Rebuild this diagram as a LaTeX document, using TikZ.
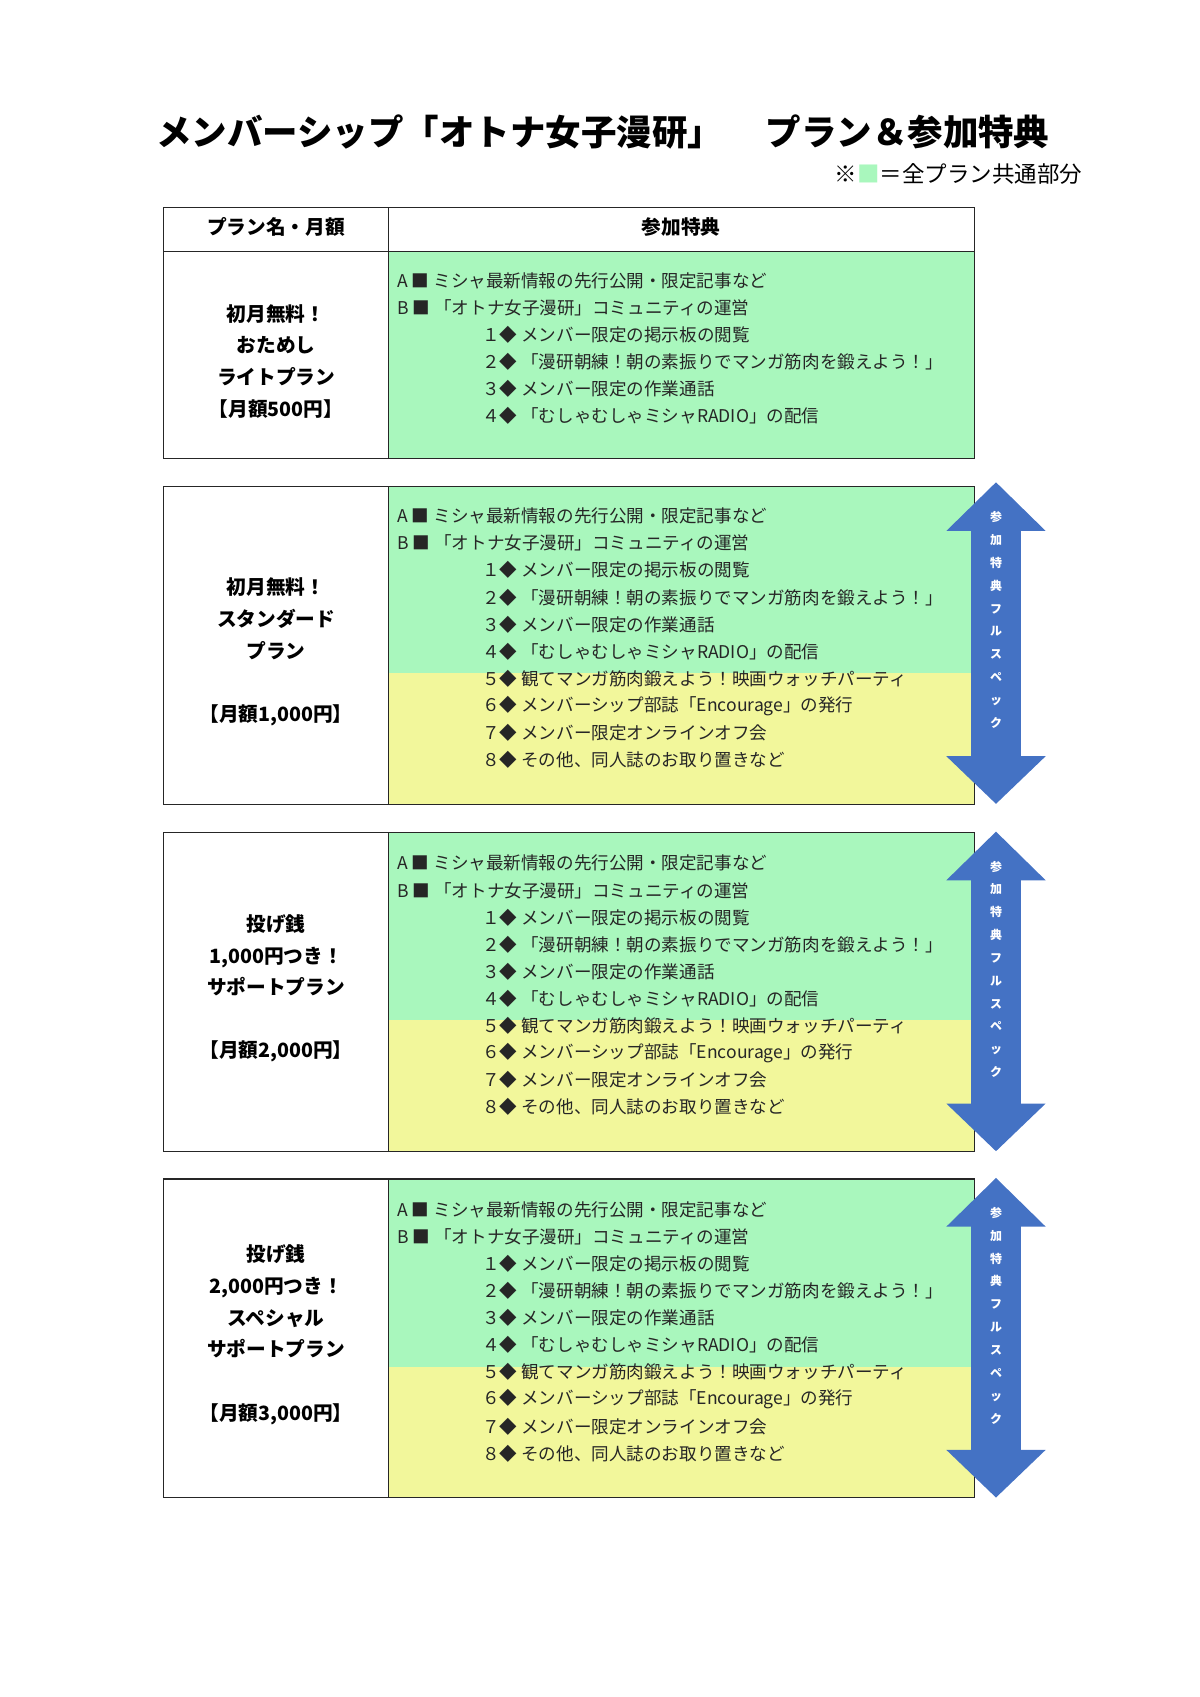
\documentclass[tikz,border=0pt]{standalone}
\usepackage{fontspec}
\setmainfont{Noto Sans CJK JP}
\definecolor{perkgreen}{HTML}{A9F7BD}
\definecolor{perkyellow}{HTML}{F2F79B}
\definecolor{arrowblue}{HTML}{4472C4}
\tikzset{
  planbox/.style={draw=black!85,line width=1.6pt},
  perk/.style={anchor=west,inner sep=0pt,font=\fontsize{25}{25}\selectfont,text=black!85},
  planname/.style={align=center,font=\fontsize{28}{45}\selectfont\bfseries},
  arrowtext/.style={align=center,text=white,font=\fontsize{17}{32.5}\selectfont\bfseries}
}
% full benefit list: #1 prefix, #2 first line y, #3 number of lines
\newcommand\perklines[3]{
  \foreach \txt [count=\i from 0] in {%
      {A ■ ミシャ最新情報の先行公開・限定記事など},
      {B ■ 「オトナ女子漫研」コミュニティの運営},
      {\hspace{121pt}１◆ メンバー限定の掲示板の閲覧},
      {\hspace{121pt}２◆ 「漫研朝練！朝の素振りでマンガ筋肉を鍛えよう！」},
      {\hspace{121pt}３◆ メンバー限定の作業通話},
      {\hspace{121pt}４◆ 「むしゃむしゃミシャRADIO」の配信},
      {\hspace{121pt}５◆ 観てマンガ筋肉鍛えよう！映画ウォッチパーティ},
      {\hspace{121pt}６◆ メンバーシップ部誌「Encourage」の発行},
      {\hspace{121pt}７◆ メンバー限定オンラインオフ会},
      {\hspace{121pt}８◆ その他、同人誌のお取り置きなど}}{
    \ifnum\i<#3
      \node[perk] (#1-\i) at (400,#2+27.3*\i) {\txt};
    \fi
  }
}
% double arrow beside a box: #1 name, #2 top tip, #3 bottom tip
\newcommand\fullarrow[3]{
  \fill[arrowblue] (1003,#2) -- (1053,#2+49) -- (1028,#2+49) -- (1028,#3-48)
    -- (1053,#3-48) -- (1003,#3) -- (953,#3-48) -- (978,#3-48)
    -- (978,#2+49) -- (953,#2+49) -- cycle;
  \node[arrowtext,anchor=north] (#1) at (1003,#2+27) {参\\加\\特\\典\\フ\\ル\\ス\\ペ\\ッ\\ク};
}
\begin{document}
\begin{tikzpicture}[x=0.04967cm,y=-0.04963cm]
  \useasboundingbox (0,0) rectangle (1208,1710);

  % title
  \node[anchor=west,inner sep=0pt,font=\fontsize{50.5}{50.5}\selectfont\bfseries] (title) at (157,133)
    {メンバーシップ「オトナ女子漫研」};
  \node[anchor=east,inner sep=0pt,font=\fontsize{50.5}{50.5}\selectfont\bfseries] (title2) at (1057,133)
    {プラン＆参加特典};
  \node[anchor=east,inner sep=0pt,font=\fontsize{32}{32}\selectfont] (note) at (1090,175)
    {※\textcolor{perkgreen}{■}＝全プラン共通部分};

  % header
  \draw[planbox] (165,209) rectangle (981,253);
  \draw[planbox] (391,209) -- (391,253);
  \node[font=\fontsize{28}{28}\selectfont\bfseries] (h1) at (278,229) {プラン名・月額};
  \node[font=\fontsize{28}{28}\selectfont\bfseries] (h2) at (686,229) {参加特典};

  % light plan
  \fill[perkgreen] (391,253) rectangle (981,462);
  \draw[planbox] (165,253) rectangle (981,462);
  \draw[planbox] (391,253) -- (391,462);
  \node[planname] (light) at (278,364) {初月無料！\\おためし\\ライトプラン\\【月額500円】};
  \perklines{light}{283}{6}

  % standard plan
  \fill[perkgreen] (391,490) rectangle (981,678);
  \fill[perkyellow] (391,678) rectangle (981,811);
  \draw[planbox] (165,490) rectangle (981,811);
  \draw[planbox] (391,490) -- (391,811);
  \node[planname] (standard) at (278,657) {初月無料！\\スタンダード\\プラン\\ \\【月額1,000円】};
  \perklines{standard}{520}{10}
  \fullarrow{arrowB}{486}{810}

  % support plan
  \fill[perkgreen] (391,839) rectangle (981,1028);
  \fill[perkyellow] (391,1028) rectangle (981,1160);
  \draw[planbox] (165,839) rectangle (981,1160);
  \draw[planbox] (391,839) -- (391,1160);
  \node[planname] (support) at (278,996) {投げ銭\\1,000円つき！\\サポートプラン\\ \\【月額2,000円】};
  \perklines{support}{870}{10}
  \fullarrow{arrowC}{838}{1160}

  % special support plan
  \fill[perkgreen] (391,1188) rectangle (981,1377);
  \fill[perkyellow] (391,1377) rectangle (981,1509);
  \draw[planbox] (165,1188) rectangle (981,1509);
  \draw[planbox] (391,1188) -- (391,1509);
  \node[planname] (special) at (278,1345) {投げ銭\\2,000円つき！\\スペシャル\\サポートプラン\\ \\【月額3,000円】};
  \perklines{special}{1219}{10}
  \fullarrow{arrowD}{1187}{1509}
\end{tikzpicture}
\end{document}
